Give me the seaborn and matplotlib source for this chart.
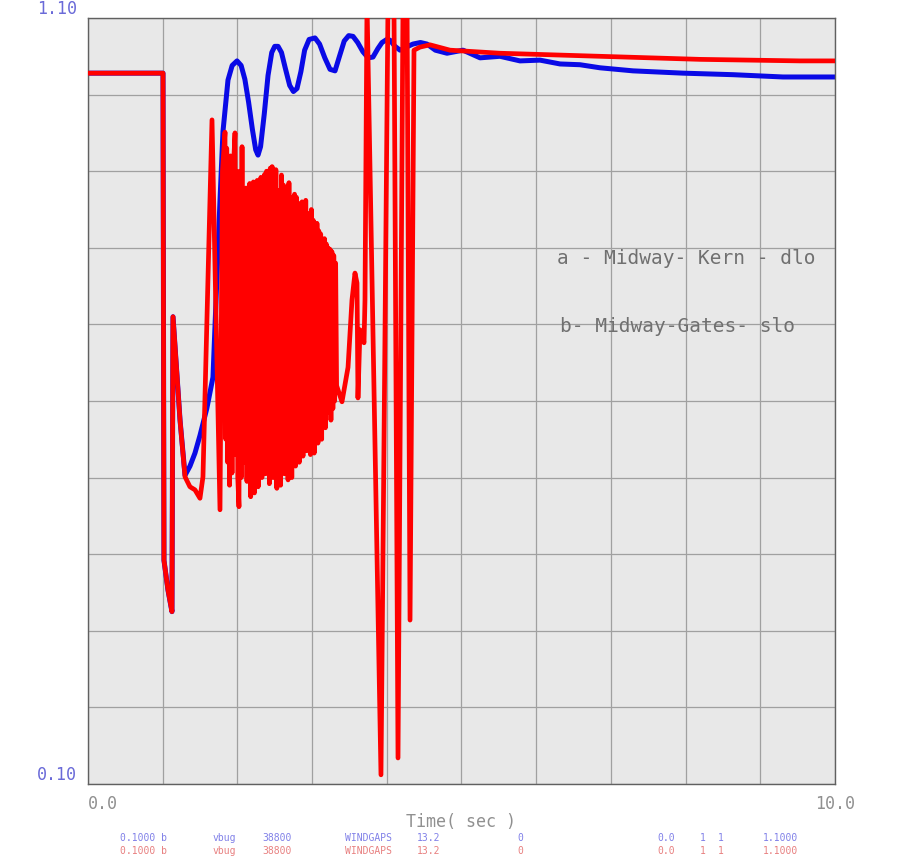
import matplotlib
matplotlib.use("Agg")
import matplotlib.pyplot as plt
import seaborn as sns
import pandas as pd

# Series a (blue)
time_a = [0.0, 1.004, 1.017, 1.071, 1.124, 1.138, 1.232, 1.299, 1.365, 1.432, 1.499, 1.59, 1.673,
          1.767, 1.807, 1.874, 1.93, 1.995, 2.05, 2.10, 2.15, 2.20, 2.245, 2.276, 2.31, 2.36,
          2.41, 2.46, 2.50, 2.544, 2.59, 2.64, 2.70, 2.75, 2.798, 2.85, 2.90, 2.96, 3.039, 3.10,
          3.17, 3.24, 3.307, 3.36, 3.43, 3.49, 3.548, 3.61, 3.68, 3.75, 3.815, 3.88, 3.936, 4.00,
          4.043, 4.11, 4.177, 4.26, 4.351, 4.45, 4.538, 4.65, 4.806, 5.020, 5.248, 5.515, 5.783,
          6.051, 6.319, 6.586, 6.854, 7.296, 7.965, 8.635, 9.304, 10.0]
volt_a = [1.028, 1.028, 0.392, 0.353, 0.325, 0.710, 0.575, 0.503, 0.515, 0.532, 0.555, 0.590, 0.631,
          0.862, 0.952, 1.019, 1.038, 1.044, 1.038, 1.020, 0.990, 0.955, 0.928, 0.921, 0.932, 0.975,
          1.025, 1.055, 1.063, 1.063, 1.055, 1.035, 1.012, 1.004, 1.008, 1.030, 1.058, 1.072, 1.074, 1.066,
          1.048, 1.033, 1.031, 1.048, 1.070, 1.077, 1.076, 1.068, 1.056, 1.048, 1.049, 1.060, 1.068, 1.072,
          1.071, 1.063, 1.058, 1.062, 1.066, 1.068, 1.066, 1.058, 1.054, 1.058, 1.048, 1.050, 1.044,
          1.045, 1.040, 1.039, 1.035, 1.031, 1.028, 1.026, 1.023, 1.023]

# Series b (red)
time_b = [0.0, 1.004, 1.017, 1.071, 1.124, 1.138, 1.232, 1.299, 1.365, 1.432, 1.499, 1.539,
          1.660, 1.767, 1.800, 1.834, 1.845, 1.857, 1.870, 1.882, 1.895, 1.907, 1.928, 1.945,
          1.968, 1.980, 1.992, 2.005, 2.021, 2.035, 2.050, 2.062, 2.075,
          2.090, 2.102, 2.115, 2.128, 2.140, 2.152, 2.165, 2.178, 2.190, 2.202, 2.215, 2.228,
          2.240, 2.252, 2.265, 2.278, 2.290, 2.302, 2.315, 2.328, 2.340, 2.352, 2.365, 2.378,
          2.390, 2.402, 2.415, 2.428, 2.440, 2.452, 2.465, 2.478, 2.490, 2.502, 2.515, 2.528,
          2.540, 2.552, 2.565, 2.578, 2.590, 2.602, 2.615, 2.628, 2.640, 2.652, 2.665, 2.678,
          2.690, 2.702, 2.715, 2.728, 2.740, 2.752, 2.765, 2.778, 2.790, 2.802, 2.815, 2.828,
          2.840, 2.852, 2.865, 2.878, 2.890, 2.902, 2.915, 2.928, 2.940, 2.952, 2.965, 2.978,
          2.990, 3.002, 3.015, 3.028, 3.040, 3.052, 3.065, 3.078, 3.090, 3.102, 3.115, 3.128,
          3.140, 3.152, 3.165, 3.178, 3.190, 3.202, 3.215, 3.228, 3.240, 3.252, 3.265, 3.278,
          3.290, 3.302, 3.315, 3.328,
          3.400, 3.481, 3.534, 3.574, 3.601, 3.614, 3.641, 3.695, 3.708, 3.735, 3.922,
          4.016, 4.096, 4.150, 4.217, 4.271, 4.311, 4.364, 4.444, 4.578, 4.846, 5.515, 6.185,
          6.854, 7.523, 8.193, 8.862, 9.531, 10.0]
volt_b = [1.028, 1.028, 0.392, 0.353, 0.325, 0.710, 0.575, 0.501, 0.488, 0.484, 0.473, 0.501,
          0.967, 0.458, 0.900, 0.951, 0.550, 0.930, 0.520, 0.910, 0.490, 0.920, 0.506, 0.900,
          0.950, 0.530, 0.900, 0.500, 0.462, 0.900, 0.500, 0.932, 0.520,
          0.870, 0.520, 0.878, 0.495, 0.860, 0.530, 0.884, 0.475, 0.880, 0.510, 0.886, 0.480,
          0.870, 0.525, 0.888, 0.488, 0.884, 0.535, 0.892, 0.500, 0.880, 0.545, 0.896, 0.505,
          0.900, 0.530, 0.892, 0.492, 0.904, 0.540, 0.906, 0.500, 0.898, 0.530, 0.902, 0.486,
          0.875, 0.520, 0.872, 0.490, 0.895, 0.545, 0.882, 0.505, 0.878, 0.550, 0.880, 0.497,
          0.885, 0.530, 0.866, 0.500, 0.862, 0.540, 0.870, 0.515, 0.866, 0.550, 0.858, 0.520,
          0.856, 0.545, 0.860, 0.528, 0.850, 0.555, 0.862, 0.535, 0.842, 0.560, 0.845, 0.530,
          0.850, 0.550, 0.836, 0.532, 0.828, 0.560, 0.832, 0.545, 0.822, 0.570, 0.818, 0.550,
          0.808, 0.580, 0.812, 0.565, 0.805, 0.590, 0.800, 0.585, 0.798, 0.575, 0.795, 0.590,
          0.790, 0.600, 0.780, 0.620,
          0.599, 0.644, 0.732, 0.767, 0.754, 0.604, 0.693, 0.676, 0.732, 1.12, 0.112,
          1.12, 1.12, 0.134, 1.12, 1.12, 0.314, 1.058, 1.062, 1.065, 1.058, 1.054, 1.052,
          1.050, 1.048, 1.046, 1.045, 1.044, 1.044]

y_ticks = [0.1, 0.2, 0.3, 0.4, 0.5, 0.6, 0.7, 0.8, 0.9, 1.0, 1.1]
y_labels = ["0.10", "", "", "", "", "", "", "", "", "", "1.10"]
x_ticks = [0, 1, 2, 3, 4, 5, 6, 7, 8, 9, 10]
x_labels = ["0.0", "", "", "", "", "", "", "", "", "", "10.0"]

legend_lines = ["a - Midway- Kern - dlo", "b- Midway-Gates- slo"]

footer_blue = ["0.1000 b", "vbug", "38800", "WINDGAPS", "13.2", "0", "0.0", "1", "1", "1.1000"]
footer_red = ["0.1000 b", "vbug", "38800", "WINDGAPS", "13.2", "0", "0.0", "1", "1", "1.1000"]

df_a = pd.DataFrame({"t": time_a, "v": volt_a})
df_b = pd.DataFrame({"t": time_b, "v": volt_b})

sns.set_style("whitegrid", {"axes.facecolor": "#e8e8e8", "grid.color": "#a0a0a0",
                            "axes.edgecolor": "#606060"})
plt.rcParams["font.family"] = ["DejaVu Sans Mono", "DejaVu Sans"]

fig = plt.figure(figsize=(9, 8.56), dpi=100)
ax = fig.add_axes([88 / 900, 1 - 784 / 856, (835 - 88) / 900, (784 - 18) / 856])

sns.lineplot(data=df_a, x="t", y="v", ax=ax, color="#0a0ae6", linewidth=3.6,
             sort=False, estimator=None, zorder=2)
sns.lineplot(data=df_b, x="t", y="v", ax=ax, color="#ff0000", linewidth=3.4,
             sort=False, estimator=None, zorder=3)

ax.set_xlim(0, 10)
ax.set_ylim(0.1, 1.1)
ax.set_xticks(x_ticks)
ax.set_xticklabels(x_labels, color="#909090", fontsize=12)
ax.set_yticks(y_ticks)
ax.set_yticklabels(y_labels, color="#6a6ad8", fontsize=12)
for lab in ax.get_yticklabels():
    lab.set_va("bottom")
ax.get_xticklabels()[0].set_ha("left")
ax.tick_params(length=0, pad=8)
ax.grid(True, linewidth=0.9)
for s in ax.spines.values():
    s.set_linewidth(1.0)
    s.set_color("#606060")
ax.set_xlabel("Time( sec )", color="#909090", fontsize=12, labelpad=0)
ax.set_ylabel("")

# curve legend, partly outside the axes
fig.text(557 / 900, 1 - 258 / 856, legend_lines[0], color="#707070", fontsize=14, va="center")
fig.text(560 / 900, 1 - 327 / 856, legend_lines[1], color="#707070", fontsize=14, va="center")

# footer rows
footer_x = [120, 213, 262, 345, 417, 517, 657, 700, 718, 763]
for x, txt in zip(footer_x, footer_blue):
    fig.text(x / 900, 1 - 838 / 856, txt, color="#8080e8", fontsize=7, va="center")
for x, txt in zip(footer_x, footer_red):
    fig.text(x / 900, 1 - 851 / 856, txt, color="#e88080", fontsize=7, va="center")

fig.savefig("out.png", dpi=100)
